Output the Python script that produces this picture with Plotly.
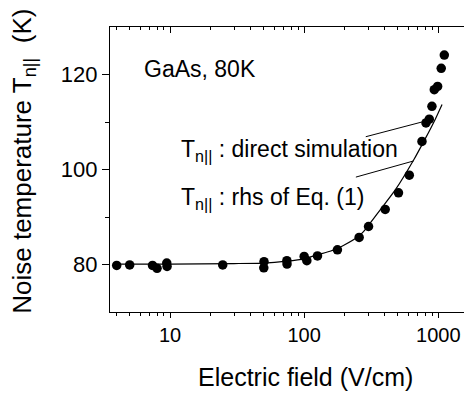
import plotly.graph_objects as go

# ---- data ----
field_sim = [4.0, 5.0, 7.4, 8.0, 9.45, 9.5, 24.7, 50.2, 50.0, 74.3, 74.5, 100, 104.7, 125.7,
             177, 257, 302, 402, 505, 608, 756, 810, 857, 897, 934, 989, 1052, 1109]
temp_sim = [79.8, 79.9, 79.8, 79.2, 80.3, 79.6, 79.9, 80.6, 79.3, 80.8, 80.1, 81.7, 80.8, 81.8,
            83.1, 85.7, 88.0, 91.6, 95.1, 98.8, 105.9, 109.8, 110.6, 113.3, 116.8, 117.5, 121.3, 124.1]

field_rhs = [4, 10, 30, 50, 74, 100, 124, 156, 175, 196, 254, 277, 369, 478, 655, 800, 950, 1067]
temp_rhs = [80.1, 80.1, 80.2, 80.3, 80.7, 81.2, 82.0, 82.8, 83.3, 84.0, 85.9, 86.9, 91.5, 95.7,
            102.0, 106.5, 110.6, 113.7]

# leader lines for the two labels (data coords)
leader1_x = [288, 755]
leader1_y = [106.9, 110.0]
leader2_x = [243, 655]
leader2_y = [98.4, 101.8]

x_major = [10, 100, 1000]
x_minor = [4, 5, 6, 7, 8, 9, 20, 30, 40, 50, 60, 70, 80, 90, 200, 300, 400, 500, 600, 700, 800, 900]
y_major = [80, 100, 120]
y_minor = [90, 110]

FONT = "Liberation Sans, Arial, Helvetica, sans-serif"

fig = go.Figure()
fig.add_trace(go.Scatter(x=field_rhs, y=temp_rhs, mode="lines", line=dict(color="black", width=1.2,
                         shape="spline", smoothing=0.6), showlegend=False, hoverinfo="skip"))
fig.add_trace(go.Scatter(x=field_sim, y=temp_sim, mode="markers",
                         marker=dict(color="black", size=9.5), showlegend=False))
for lx, ly in [(leader1_x, leader1_y), (leader2_x, leader2_y)]:
    fig.add_trace(go.Scatter(x=lx, y=ly, mode="lines", line=dict(color="black", width=1),
                             showlegend=False, hoverinfo="skip"))
# dummy trace for top axis
fig.add_trace(go.Scatter(x=[10], y=[80], xaxis="x2", mode="markers", marker=dict(opacity=0),
                         showlegend=False, hoverinfo="skip"))

xr = [0.5522, 3.2515]
fig.update_layout(
    width=464, height=386,
    margin=dict(l=102, r=0, t=19, b=82),
    paper_bgcolor="white", plot_bgcolor="white",
    font=dict(family=FONT, color="black"),
    xaxis=dict(type="log", range=xr, showgrid=False, zeroline=False,
               showline=True, linecolor="black", linewidth=1.2,
               tickmode="array", tickvals=x_major, ticktext=["10", "100", "1000"],
               ticks="outside", ticklen=5, tickwidth=1, tickcolor="black",
               tickfont=dict(size=20, family=FONT),
               minor=dict(tickmode="array", tickvals=x_minor, ticks="outside", ticklen=3,
                          tickcolor="black", tickwidth=1, showgrid=False)),
    xaxis2=dict(type="log", range=xr, overlaying="x", side="top", showgrid=False,
                zeroline=False, showline=True, linecolor="black", linewidth=1.2,
                tickmode="array", tickvals=x_major, showticklabels=False,
                ticks="inside", ticklen=6, tickwidth=1, tickcolor="black",
                minor=dict(tickmode="array", tickvals=x_minor, ticks="inside", ticklen=3,
                           tickcolor="black", tickwidth=1, showgrid=False)),
    yaxis=dict(range=[70, 130], showgrid=False, zeroline=False,
               showline=True, linecolor="black", linewidth=1.2,
               tickmode="array", tickvals=y_major, ticktext=["80", "100", "120"],
               ticks="outside", ticklen=7, tickwidth=1, tickcolor="black",
               tickfont=dict(size=22, family=FONT),
               minor=dict(tickmode="array", tickvals=y_minor, ticks="outside", ticklen=4,
                          tickcolor="black", tickwidth=1, showgrid=False)),
    annotations=[
        dict(text="GaAs, 80K", xref="paper", yref="paper", x=0.088, y=0.853,
             xanchor="left", yanchor="middle", showarrow=False, font=dict(size=23)),
        dict(text="T<sub>n||</sub> : direct simulation", xref="paper", yref="paper",
             x=0.19, y=0.565, xanchor="left", yanchor="middle", showarrow=False,
             font=dict(size=23)),
        dict(text="T<sub>n||</sub> : rhs of Eq. (1)", xref="paper", yref="paper",
             x=0.19, y=0.40, xanchor="left", yanchor="middle", showarrow=False,
             font=dict(size=23)),
        dict(text="Electric field (V/cm)", xref="paper", yref="paper",
             x=0.539, y=-0.227, xanchor="center", yanchor="middle", showarrow=False,
             font=dict(size=25)),
        dict(text="Noise temperature T<sub>n||</sub>  (K)", xref="paper", yref="paper",
             x=-0.238, y=0.53, xanchor="center", yanchor="middle", showarrow=False,
             textangle=-90, font=dict(size=26)),
    ],
)
fig.write_html("out.html")
